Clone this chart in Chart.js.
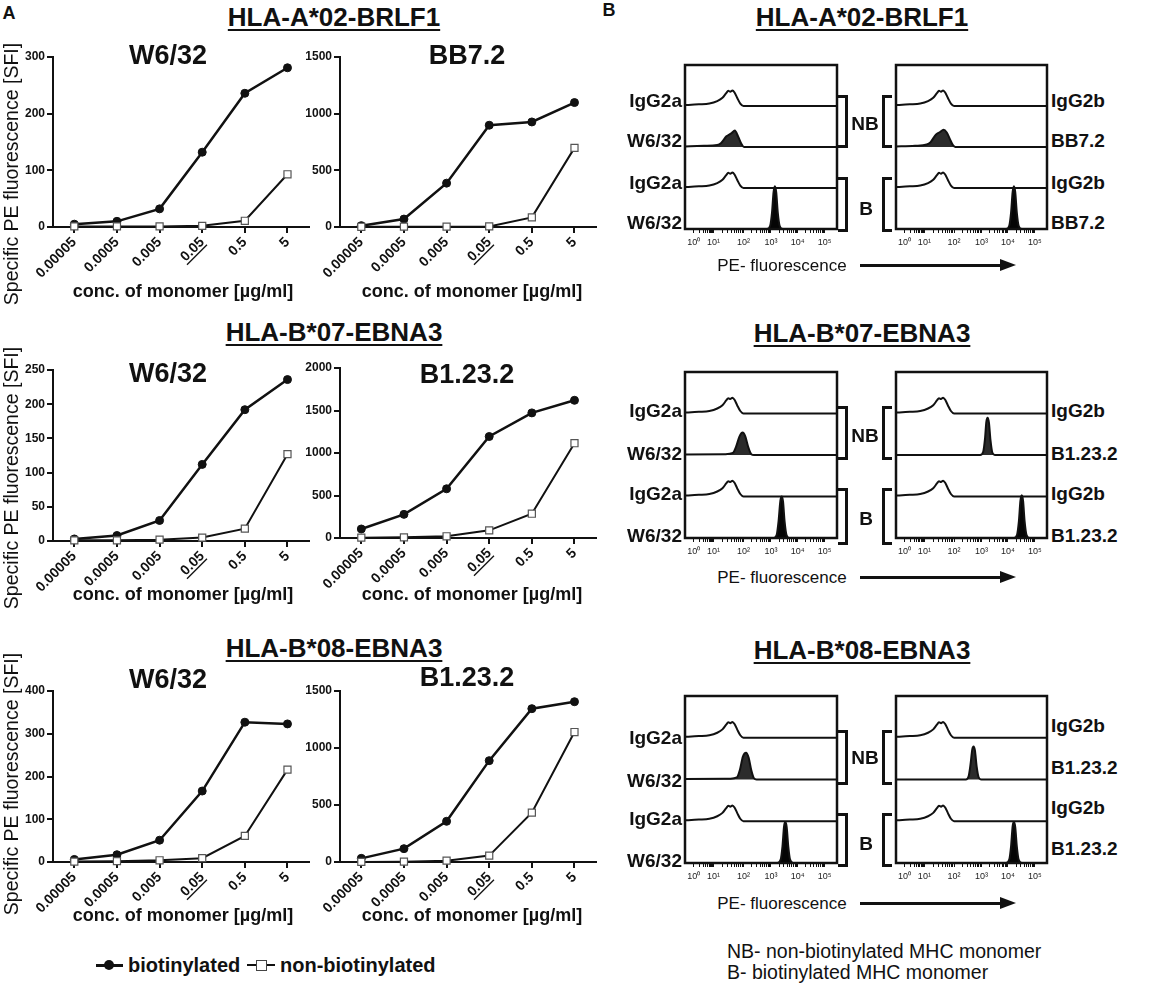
<!DOCTYPE html>
<html>
<head>
<meta charset="utf-8">
<script src="https://cdn.jsdelivr.net/npm/chart.js@4.4.1/dist/chart.umd.min.js"></script>
<style>
  body { margin:0; width:1174px; height:989px; position:relative; overflow:hidden; background:#fff;
         font-family:"Liberation Sans", Arial, sans-serif; color:#111; }
  .t { position:absolute; white-space:nowrap; line-height:1; }
  .panel { font-weight:bold; font-size:18px; }
  .grp { font-weight:bold; font-size:26px; text-decoration:underline; text-decoration-thickness:2px; text-underline-offset:3px; }
  .ttl { font-weight:bold; font-size:27px; }
  .xt  { font-weight:bold; font-size:18px; }
  .yt  { font-size:19.5px; }
  .lab { font-weight:bold; font-size:19px; }
  .pe  { font-size:17px; }
  .foot{ font-size:19.5px; }
  .leg { font-weight:bold; font-size:20px; }
  .br  { position:absolute; border:3px solid #111; box-sizing:border-box; width:10px; }
  .br.r { border-left:none; }
  .br.l { border-right:none; }
  .ln  { position:absolute; background:#111; }
</style>
</head>
<body>
<script>
// ── panel A: dose-response ─────────────────────────────────────────────
const concLabels = ['0.00005', '0.0005', '0.005', '0.05', '0.5', '5'];
const underlinedConc = '0.05';

// HLA-A*02-BRLF1
const a02W632Bio = [5, 10, 32, 132, 236, 281];
const a02W632Non = [1, 1, 1, 2, 11, 93];
const a02BB72Bio = [12, 70, 387, 898, 927, 1098];
const a02BB72Non = [2, 3, 3, 5, 85, 698];
// HLA-B*07-EBNA3
const b07W632Bio = [3, 8, 30, 112, 192, 236];
const b07W632Non = [1, 1, 2, 5, 18, 127];
const b07B123Bio = [106, 278, 579, 1194, 1472, 1620];
const b07B123Non = [4, 8, 20, 90, 286, 1115];
// HLA-B*08-EBNA3
const b08W632Bio = [6, 17, 51, 166, 327, 323];
const b08W632Non = [1, 2, 4, 9, 61, 216];
const b08B123Bio = [32, 117, 357, 889, 1345, 1406];
const b08B123Non = [1, 3, 12, 56, 433, 1140];

const yMaxes  = [300, 1500, 250, 2000, 400, 1500];
const ySteps  = [100, 500, 50, 500, 100, 500];

// ── panel B: histograms (x in display decades, y in row heights) ──────
const decadeTickPos  = [0, 0.76, 1.9, 2.95, 3.97, 5];
const decadeTickText = ['10\u2070', '10\u00b9', '10\u00b2', '10\u00b3', '10\u2074', '10\u2075'];

const isotypeTrace = [[-0.4,0.02],[0.2,0.04],[0.6,0.06],[0.9,0.12],[1.1,0.2],[1.25,0.32],[1.32,0.37],[1.4,0.35],[1.48,0.38],[1.56,0.33],[1.66,0.2],[1.78,0.06],[1.9,0],[5.6,0]];

const a02NbW632 = [[-0.4,0.01],[0.4,0.03],[0.9,0.05],[1.05,0.1],[1.25,0.26],[1.45,0.34],[1.57,0.4],[1.7,0.25],[1.82,0.08],[1.92,0],[5.6,0]];
const a02NbBB72 = [[-0.4,0.01],[0.4,0.03],[0.85,0.06],[1.0,0.12],[1.2,0.3],[1.35,0.36],[1.5,0.42],[1.62,0.35],[1.75,0.18],[1.85,0.05],[1.95,0],[5.6,0]];
const a02BW632  = [[-0.4,0],[2.8,0],[2.92,0.08],[2.99,0.4],[3.05,0.9],[3.1,1.04],[3.15,0.9],[3.21,0.4],[3.28,0.08],[3.4,0],[5.6,0]];
const a02BBB72  = [[-0.4,0],[3.9,0],[4.02,0.08],[4.09,0.4],[4.15,0.9],[4.2,1.04],[4.25,0.9],[4.31,0.4],[4.38,0.08],[4.5,0],[5.6,0]];

const b07NbW632 = [[-0.4,0.01],[1.2,0.02],[1.5,0.05],[1.62,0.2],[1.75,0.45],[1.87,0.54],[1.97,0.45],[2.08,0.2],[2.2,0.02],[2.3,0],[5.6,0]];
const b07NbB123 = [[-0.4,0],[2.9,0],[3.02,0.08],[3.09,0.4],[3.14,0.8],[3.19,0.9],[3.24,0.78],[3.3,0.35],[3.37,0.06],[3.48,0],[5.6,0]];
const b07BW632  = [[-0.4,0],[3.05,0],[3.17,0.08],[3.24,0.4],[3.31,0.9],[3.36,1.0],[3.41,0.88],[3.47,0.4],[3.54,0.08],[3.65,0],[5.6,0]];
const b07BB123  = [[-0.4,0],[4.2,0],[4.32,0.08],[4.39,0.4],[4.45,0.9],[4.5,1.03],[4.55,0.9],[4.61,0.4],[4.68,0.08],[4.8,0],[5.6,0]];

const b08NbW632 = [[-0.4,0.01],[1.4,0.02],[1.65,0.05],[1.76,0.22],[1.88,0.55],[2.0,0.64],[2.1,0.52],[2.2,0.22],[2.3,0.03],[2.4,0],[5.6,0]];
const b08NbB123 = [[-0.4,0],[2.35,0],[2.46,0.08],[2.53,0.35],[2.6,0.72],[2.65,0.79],[2.7,0.7],[2.77,0.3],[2.84,0.06],[2.95,0],[5.6,0]];
const b08BW632  = [[-0.4,0],[3.2,0],[3.32,0.08],[3.39,0.4],[3.45,0.88],[3.5,0.98],[3.55,0.86],[3.61,0.4],[3.68,0.08],[3.8,0],[5.6,0]];
const b08BB123  = [[-0.4,0],[3.9,0],[4.02,0.08],[4.09,0.4],[4.15,0.88],[4.2,0.98],[4.25,0.86],[4.31,0.4],[4.38,0.08],[4.5,0],[5.6,0]];

// ── helpers ────────────────────────────────────────────────────────────
const FONT = '"Liberation Sans", Arial, sans-serif';
Chart.defaults.font.family = FONT;
Chart.defaults.color = '#111';

function addCanvas(left, top, w, h) {
  const c = document.createElement('canvas');
  c.width = w; c.height = h;
  c.style.cssText = `position:absolute;left:${left}px;top:${top}px;width:${w}px;height:${h}px`;
  document.body.appendChild(c);
  return c;
}

function txt(s, x, y, cls, anchor = 'c', rot = 0) {
  const d = document.createElement('div');
  d.className = 't ' + cls;
  d.textContent = s;
  const tx = anchor === 'c' ? '-50%' : anchor === 'r' ? '-100%' : '0';
  d.style.left = x + 'px';
  d.style.top = y + 'px';
  d.style.transform = `translate(${tx},-50%)` + (rot ? ` rotate(${rot}deg)` : '');
  document.body.appendChild(d);
}

function box(cls, l, t, w, h) {
  const d = document.createElement('div');
  d.className = cls;
  d.style.cssText = `left:${l}px;top:${t}px;width:${w}px;height:${h}px`;
  document.body.appendChild(d);
  return d;
}

// underline one rotated category label (0.05)
const underlineTick = {
  id: 'underlineTick',
  afterDraw(chart) {
    const sc = chart.scales.x;
    const idx = concLabels.indexOf(underlinedConc);
    const it = sc.getLabelItems()[idx];
    if (!it) return;
    const ctx = chart.ctx;
    ctx.save();
    ctx.translate(it.options.translation[0], it.options.translation[1]);
    ctx.rotate(it.options.rotation);
    ctx.font = it.font.string;
    const w = ctx.measureText(it.label).width;
    const yy = it.textOffset + it.font.size * 0.48;
    ctx.strokeStyle = '#111';
    ctx.lineWidth = 1.3;
    ctx.beginPath();
    ctx.moveTo(-w - 1, yy);
    ctx.lineTo(0, yy);
    ctx.stroke();
    ctx.restore();
  }
};

const frame = {
  id: 'frame',
  afterDatasetsDraw(chart) {
    const { ctx, chartArea: a } = chart;
    ctx.save();
    ctx.lineWidth = 2.5;
    ctx.strokeStyle = '#111';
    ctx.strokeRect(a.left, a.top, a.width, a.height);
    ctx.restore();
  }
};

// ── panel A charts ─────────────────────────────────────────────────────
const YW = 48, XH = 80, PW = 256;
function doseChart(L, T, B, bio, non, max, step) {
  const c = addCanvas(L - YW, T - 10, YW + PW + 6, 10 + (B - T) + XH);
  return new Chart(c, {
    type: 'line',
    data: {
      labels: concLabels,
      datasets: [
        { data: non, borderColor: '#111', borderWidth: 2, pointStyle: 'rect', pointRadius: 5,
          pointBackgroundColor: '#fff', pointBorderColor: '#555', pointBorderWidth: 1.2, clip: false },
        { data: bio, borderColor: '#111', borderWidth: 2.5, pointRadius: 4,
          pointBackgroundColor: '#111', pointBorderColor: '#111', pointBorderWidth: 1, clip: false },
      ],
    },
    options: {
      responsive: false,
      animation: false,
      layout: { padding: { top: 10, right: 6, left: 0, bottom: 0 } },
      plugins: { legend: { display: false }, tooltip: { enabled: false } },
      scales: {
        x: {
          offset: true,
          grid: { drawOnChartArea: false, tickLength: 6, color: '#111', lineWidth: 2 },
          border: { color: '#111', width: 2 },
          ticks: { color: '#111', font: { size: 14, weight: 'bold' }, minRotation: 45, maxRotation: 45, autoSkip: false, padding: 1 },
          afterFit: s => { s.height = XH; },
        },
        y: {
          min: 0, max,
          grid: { drawOnChartArea: false, tickLength: 6, color: '#111', lineWidth: 2 },
          border: { color: '#111', width: 2 },
          ticks: { stepSize: step, color: '#111', font: { size: 12, weight: 'bold' }, padding: 2,
                   callback: v => String(v) },
          afterFit: s => { s.width = YW; },
        },
      },
    },
    plugins: [underlineTick],
  });
}

doseChart(53, 57, 227, a02W632Bio, a02W632Non, yMaxes[0], ySteps[0]);
doseChart(340, 57, 227, a02BB72Bio, a02BB72Non, yMaxes[1], ySteps[1]);
doseChart(53, 370, 541, b07W632Bio, b07W632Non, yMaxes[2], ySteps[2]);
doseChart(340, 368, 538, b07B123Bio, b07B123Non, yMaxes[3], ySteps[3]);
doseChart(53, 691, 862, b08W632Bio, b08W632Non, yMaxes[4], ySteps[4]);
doseChart(340, 691, 862, b08B123Bio, b08B123Non, yMaxes[5], ySteps[5]);

// ── panel B charts ─────────────────────────────────────────────────────
const minorTicks = [];
for (let k = 0; k < decadeTickPos.length - 1; k++) {
  const span = decadeTickPos[k + 1] - decadeTickPos[k];
  for (let m = 2; m <= 9; m++) minorTicks.push(decadeTickPos[k] + Math.log10(m) * span);
}
const histTicks = [...decadeTickPos, ...minorTicks].sort((a, b) => a - b);

function histChart(L, R, T, B, traces) {
  const c = addCanvas(L - 3, T - 3, R - L + 6, B - T + 3 + 28);
  return new Chart(c, {
    type: 'line',
    data: {
      datasets: traces.map((tr, i) => {
        const base = 3 - i;
        const stained = i % 2 === 1;
        return {
          data: tr.map(([x, v]) => ({ x, y: base + v })),
          borderColor: '#111',
          borderWidth: 2,
          pointRadius: 0,
          cubicInterpolationMode: 'monotone',
          fill: stained ? { value: base } : false,
          backgroundColor: i === 1 ? '#2b2b2b' : '#050505',
        };
      }),
    },
    options: {
      responsive: false,
      animation: false,
      layout: { padding: { top: 3, right: 3, left: 3, bottom: 0 } },
      plugins: { legend: { display: false }, tooltip: { enabled: false } },
      scales: {
        x: {
          type: 'linear', min: -0.33, max: 5.47,
          afterBuildTicks: s => { s.ticks = histTicks.map(v => ({ value: v })); },
          grid: { drawOnChartArea: false, tickLength: 4, color: '#111', lineWidth: 1 },
          border: { display: false },
          ticks: {
            autoSkip: false, maxRotation: 0, padding: 4, color: '#222', font: { size: 9 },
            callback: v => { const k = decadeTickPos.indexOf(v); return k >= 0 ? decadeTickText[k] : ''; },
          },
          afterFit: s => { s.height = 28; },
        },
        y: { display: false, min: 0, max: 4 },
      },
    },
    plugins: [frame],
  });
}

const boxLeft = [685, 837], boxRight = [896, 1047];
histChart(boxLeft[0], boxLeft[1], 65, 229, [isotypeTrace, a02NbW632, isotypeTrace, a02BW632]);
histChart(boxRight[0], boxRight[1], 65, 229, [isotypeTrace, a02NbBB72, isotypeTrace, a02BBB72]);
histChart(boxLeft[0], boxLeft[1], 372, 538, [isotypeTrace, b07NbW632, isotypeTrace, b07BW632]);
histChart(boxRight[0], boxRight[1], 372, 538, [isotypeTrace, b07NbB123, isotypeTrace, b07BB123]);
histChart(boxLeft[0], boxLeft[1], 696, 863, [isotypeTrace, b08NbW632, isotypeTrace, b08BW632]);
histChart(boxRight[0], boxRight[1], 696, 863, [isotypeTrace, b08NbB123, isotypeTrace, b08BB123]);

// ── text: panel A ──────────────────────────────────────────────────────
txt('A', 9, 13, 'panel');
const yTitle = 'Specific PE fluorescence [SFI]';
const xTitle = 'conc. of monomer [\u00b5g/ml]';
[[17, 55, 291, 174, 'HLA-A*02-BRLF1', 'W6/32', 'BB7.2', 55],
 [332, 373, 594, 478, 'HLA-B*07-EBNA3', 'W6/32', 'B1.23.2', 374],
 [648, 679, 915, 784, 'HLA-B*08-EBNA3', 'W6/32', 'B1.23.2', 677]].forEach(([gy, ty, xy, yy, g, t1, t2, ty2]) => {
  txt(g, 334, gy, 'grp');
  txt(t1, 168, ty, 'ttl');
  txt(t2, 467, ty2, 'ttl');
  txt(xTitle, 183, xy, 'xt');
  txt(xTitle, 472, xy, 'xt');
  txt(yTitle, 12, yy, 'yt', 'c', -90);
});

// legend
box('ln', 96, 964, 27, 2.5);
const dot = box('ln', 104, 960, 10, 10); dot.style.borderRadius = '50%';
txt('biotinylated', 128, 965, 'leg', 'l');
box('ln', 247, 964, 28, 2);
const sq = box('ln', 256, 960, 9, 9); sq.style.background = '#fff'; sq.style.border = '1.2px solid #444';
txt('non-biotinylated', 280, 965, 'leg', 'l');

// ── text: panel B ──────────────────────────────────────────────────────
txt('B', 609, 10, 'panel');
const groupsB = [
  { g: 'HLA-A*02-BRLF1', gy: 17, rightAb: 'BB7.2', ly: [100, 140, 182, 222], ry: [100, 140, 182, 222],
    nb: [95, 148], b: [177, 232], nbY: 123, bY: 208, pe: 265 },
  { g: 'HLA-B*07-EBNA3', gy: 333, rightAb: 'B1.23.2', ly: [410, 453, 493, 535], ry: [410, 453, 493, 535],
    nb: [406, 460], b: [488, 545], nbY: 435, bY: 518, pe: 577 },
  { g: 'HLA-B*08-EBNA3', gy: 650, rightAb: 'B1.23.2', ly: [737, 780, 818, 860], ry: [725, 767, 807, 848],
    nb: [730, 785], b: [813, 867], nbY: 757, bY: 843, pe: 903 },
];
groupsB.forEach(G => {
  txt(G.g, 862, G.gy, 'grp');
  ['IgG2a', 'W6/32', 'IgG2a', 'W6/32'].forEach((s, i) => txt(s, 682, G.ly[i], 'lab', 'r'));
  ['IgG2b', G.rightAb, 'IgG2b', G.rightAb].forEach((s, i) => txt(s, 1051, G.ry[i], 'lab', 'l'));
  box('br r', 838, G.nb[0], 10, G.nb[1] - G.nb[0]);
  box('br l', 882, G.nb[0], 10, G.nb[1] - G.nb[0]);
  box('br r', 838, G.b[0], 10, G.b[1] - G.b[0]);
  box('br l', 882, G.b[0], 10, G.b[1] - G.b[0]);
  txt('NB', 865, G.nbY, 'lab');
  txt('B', 866, G.bY, 'lab');
  txt('PE- fluorescence', 782, G.pe, 'pe');
  box('ln', 860, G.pe - 1, 142, 2.5);
  const head = box('ln', 1000, G.pe - 6.5, 15, 13);
  head.style.background = 'none';
  head.style.width = '0'; head.style.height = '0';
  head.style.borderTop = '6.5px solid transparent';
  head.style.borderBottom = '6.5px solid transparent';
  head.style.borderLeft = '16px solid #111';
});

txt('NB- non-biotinylated MHC monomer', 727, 952, 'foot', 'l');
txt('B- biotinylated MHC monomer', 727, 973, 'foot', 'l');
</script>
</body>
</html>
